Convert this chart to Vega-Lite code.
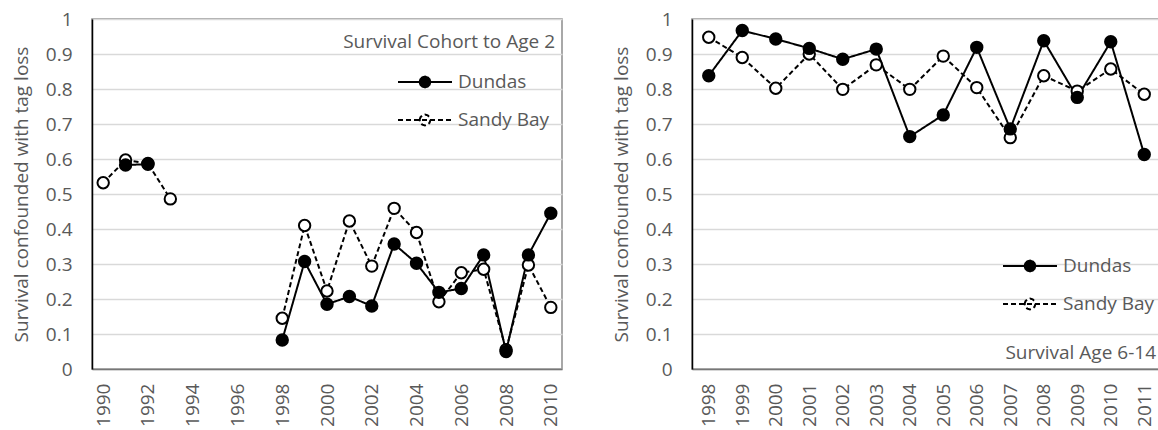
{
  "$schema": "https://vega.github.io/schema/vega-lite/v6.json",
  "background": "white",
  "padding": {"left": 11, "top": 9, "right": 0, "bottom": 0},
  "spacing": 48,
  "datasets": {
    "age2": [
      {"year": 1990, "site": "Sandy Bay", "value": 0.532, "period": "early"},
      {"year": 1991, "site": "Sandy Bay", "value": 0.597, "period": "early"},
      {"year": 1992, "site": "Sandy Bay", "value": 0.587, "period": "early"},
      {"year": 1993, "site": "Sandy Bay", "value": 0.486, "period": "early"},
      {"year": 1998, "site": "Sandy Bay", "value": 0.145, "period": "late"},
      {"year": 1999, "site": "Sandy Bay", "value": 0.41, "period": "late"},
      {"year": 2000, "site": "Sandy Bay", "value": 0.223, "period": "late"},
      {"year": 2001, "site": "Sandy Bay", "value": 0.423, "period": "late"},
      {"year": 2002, "site": "Sandy Bay", "value": 0.294, "period": "late"},
      {"year": 2003, "site": "Sandy Bay", "value": 0.459, "period": "late"},
      {"year": 2004, "site": "Sandy Bay", "value": 0.39, "period": "late"},
      {"year": 2005, "site": "Sandy Bay", "value": 0.192, "period": "late"},
      {"year": 2006, "site": "Sandy Bay", "value": 0.275, "period": "late"},
      {"year": 2007, "site": "Sandy Bay", "value": 0.285, "period": "late"},
      {"year": 2008, "site": "Sandy Bay", "value": 0.055, "period": "late"},
      {"year": 2009, "site": "Sandy Bay", "value": 0.297, "period": "late"},
      {"year": 2010, "site": "Sandy Bay", "value": 0.176, "period": "late"},
      {"year": 1991, "site": "Dundas", "value": 0.583, "period": "early"},
      {"year": 1992, "site": "Dundas", "value": 0.585, "period": "early"},
      {"year": 1998, "site": "Dundas", "value": 0.083, "period": "late"},
      {"year": 1999, "site": "Dundas", "value": 0.307, "period": "late"},
      {"year": 2000, "site": "Dundas", "value": 0.185, "period": "late"},
      {"year": 2001, "site": "Dundas", "value": 0.207, "period": "late"},
      {"year": 2002, "site": "Dundas", "value": 0.18, "period": "late"},
      {"year": 2003, "site": "Dundas", "value": 0.357, "period": "late"},
      {"year": 2004, "site": "Dundas", "value": 0.302, "period": "late"},
      {"year": 2005, "site": "Dundas", "value": 0.219, "period": "late"},
      {"year": 2006, "site": "Dundas", "value": 0.23, "period": "late"},
      {"year": 2007, "site": "Dundas", "value": 0.326, "period": "late"},
      {"year": 2008, "site": "Dundas", "value": 0.05, "period": "late"},
      {"year": 2009, "site": "Dundas", "value": 0.326, "period": "late"},
      {"year": 2010, "site": "Dundas", "value": 0.445, "period": "late"}
    ],
    "adult": [
      {"year": 1998, "site": "Sandy Bay", "value": 0.948},
      {"year": 1999, "site": "Sandy Bay", "value": 0.89},
      {"year": 2000, "site": "Sandy Bay", "value": 0.802},
      {"year": 2001, "site": "Sandy Bay", "value": 0.9},
      {"year": 2002, "site": "Sandy Bay", "value": 0.799},
      {"year": 2003, "site": "Sandy Bay", "value": 0.869},
      {"year": 2004, "site": "Sandy Bay", "value": 0.799},
      {"year": 2005, "site": "Sandy Bay", "value": 0.894},
      {"year": 2006, "site": "Sandy Bay", "value": 0.804},
      {"year": 2007, "site": "Sandy Bay", "value": 0.661},
      {"year": 2008, "site": "Sandy Bay", "value": 0.838},
      {"year": 2009, "site": "Sandy Bay", "value": 0.794},
      {"year": 2010, "site": "Sandy Bay", "value": 0.857},
      {"year": 2011, "site": "Sandy Bay", "value": 0.785},
      {"year": 1998, "site": "Dundas", "value": 0.838},
      {"year": 1999, "site": "Dundas", "value": 0.967},
      {"year": 2000, "site": "Dundas", "value": 0.943},
      {"year": 2001, "site": "Dundas", "value": 0.916},
      {"year": 2002, "site": "Dundas", "value": 0.885},
      {"year": 2003, "site": "Dundas", "value": 0.914},
      {"year": 2004, "site": "Dundas", "value": 0.664},
      {"year": 2005, "site": "Dundas", "value": 0.726},
      {"year": 2006, "site": "Dundas", "value": 0.919},
      {"year": 2007, "site": "Dundas", "value": 0.686},
      {"year": 2008, "site": "Dundas", "value": 0.938},
      {"year": 2009, "site": "Dundas", "value": 0.776},
      {"year": 2010, "site": "Dundas", "value": 0.935},
      {"year": 2011, "site": "Dundas", "value": 0.613}
    ]
  },
  "resolve": {"scale": {"x": "independent", "y": "independent", "fill": "independent", "strokeDash": "independent"}, "legend": {"fill": "independent", "strokeDash": "independent"}},
  "hconcat": [
    {
      "width": 470,
      "height": 350,
      "title": {"text": "Survival Cohort to Age 2", "orient": "top", "anchor": "end", "frame": "group", "baseline": "middle", "offset": -51, "dx": -7, "fontSize": 19, "fontWeight": "normal", "color": "#595959", "font": "Open Sans"},
      "data": {"name": "age2"},
      "encoding": {
        "x": {"field": "year", "type": "quantitative", "scale": {"domain": [1989.5, 2010.5], "nice": false, "zero": false},
              "axis": {"title": null, "values": [1990, 1992, 1994, 1996, 1998, 2000, 2002, 2004, 2006, 2008, 2010], "format": "d", "labelAngle": -90, "grid": false, "ticks": false, "labelPadding": 14, "labelOverlap": false, "domainColor": "#777777", "domainWidth": 1.5}},
        "y": {"field": "value", "type": "quantitative", "scale": {"domain": [0, 1], "nice": false},
              "axis": {"title": "Survival confounded with tag loss", "values": [0, 0.1, 0.2, 0.3, 0.4, 0.5, 0.6, 0.7, 0.8, 0.9, 1], "format": ".1~f", "ticks": false, "labelPadding": 20, "titlePadding": 14, "labelOverlap": false, "domainColor": "#000000", "domainWidth": 1.5}}
      },
      "layer": [
        {
          "mark": {"type": "line", "stroke": "black", "strokeWidth": 2},
          "encoding": {
            "strokeDash": {"field": "site", "type": "nominal", "scale": {"domain": ["Dundas", "Sandy Bay"], "range": [[1, 0], [5, 3]]},
                           "legend": {"title": null, "orient": "none", "legendX": 305, "legendY": 35, "symbolType": "M-1,0H1M-0.2,0L-0.17,-0.1L-0.1,-0.17L0,-0.2L0.1,-0.17L0.17,-0.1L0.2,0L0.17,0.1L0.1,0.17L0,0.2L-0.1,0.17L-0.17,0.1Z", "symbolSize": 2916, "symbolStrokeColor": "black", "symbolStrokeWidth": 2, "labelOffset": 5, "rowPadding": -2, "padding": 0}},
            "detail": {"field": "period"}
          }
        },
        {
          "mark": {"type": "point", "shape": "circle", "filled": true, "stroke": "black", "strokeWidth": 2, "size": 130, "opacity": 1},
          "encoding": {
            "fill": {"field": "site", "type": "nominal", "scale": {"domain": ["Dundas", "Sandy Bay"], "range": ["black", "white"]},
                     "legend": {"title": null, "orient": "none", "legendX": 305, "legendY": 35, "symbolType": "M-1,0H1M-0.2,0L-0.17,-0.1L-0.1,-0.17L0,-0.2L0.1,-0.17L0.17,-0.1L0.2,0L0.17,0.1L0.1,0.17L0,0.2L-0.1,0.17L-0.17,0.1Z", "symbolSize": 2916, "symbolStrokeColor": "black", "symbolStrokeWidth": 2, "labelOffset": 5, "rowPadding": -2, "padding": 0}}
          }
        }
      ]
    },
    {
      "width": 469,
      "height": 350,
      "title": {"text": "Survival Age 6-14", "orient": "bottom", "anchor": "end", "frame": "group", "baseline": "middle", "offset": -73, "dx": -5, "fontSize": 19, "fontWeight": "normal", "color": "#595959", "font": "Open Sans"},
      "data": {"name": "adult"},
      "encoding": {
        "x": {"field": "year", "type": "quantitative", "scale": {"domain": [1997.5, 2011.5], "nice": false, "zero": false},
              "axis": {"title": null, "values": [1998, 1999, 2000, 2001, 2002, 2003, 2004, 2005, 2006, 2007, 2008, 2009, 2010, 2011], "format": "d", "labelAngle": -90, "grid": false, "ticks": false, "labelPadding": 14, "labelOverlap": false, "domainColor": "#777777", "domainWidth": 1.5}},
        "y": {"field": "value", "type": "quantitative", "scale": {"domain": [0, 1], "nice": false},
              "axis": {"title": "Survival confounded with tag loss", "values": [0, 0.1, 0.2, 0.3, 0.4, 0.5, 0.6, 0.7, 0.8, 0.9, 1], "format": ".1~f", "ticks": false, "labelPadding": 20, "titlePadding": 14, "labelOverlap": false, "domainColor": "#000000", "domainWidth": 1.5}}
      },
      "layer": [
        {
          "mark": {"type": "line", "stroke": "black", "strokeWidth": 2},
          "encoding": {
            "strokeDash": {"field": "site", "type": "nominal", "scale": {"domain": ["Dundas", "Sandy Bay"], "range": [[1, 0], [5, 3]]},
                           "legend": {"title": null, "orient": "none", "legendX": 310, "legendY": 219, "symbolType": "M-1,0H1M-0.2,0L-0.17,-0.1L-0.1,-0.17L0,-0.2L0.1,-0.17L0.17,-0.1L0.2,0L0.17,0.1L0.1,0.17L0,0.2L-0.1,0.17L-0.17,0.1Z", "symbolSize": 2916, "symbolStrokeColor": "black", "symbolStrokeWidth": 2, "labelOffset": 5, "rowPadding": 0, "padding": 0}}
          }
        },
        {
          "mark": {"type": "point", "shape": "circle", "filled": true, "stroke": "black", "strokeWidth": 2, "size": 130, "opacity": 1},
          "encoding": {
            "fill": {"field": "site", "type": "nominal", "scale": {"domain": ["Dundas", "Sandy Bay"], "range": ["black", "white"]},
                     "legend": {"title": null, "orient": "none", "legendX": 310, "legendY": 219, "symbolType": "M-1,0H1M-0.2,0L-0.17,-0.1L-0.1,-0.17L0,-0.2L0.1,-0.17L0.17,-0.1L0.2,0L0.17,0.1L0.1,0.17L0,0.2L-0.1,0.17L-0.17,0.1Z", "symbolSize": 2916, "symbolStrokeColor": "black", "symbolStrokeWidth": 2, "labelOffset": 5, "rowPadding": 0, "padding": 0}}
          }
        }
      ]
    }
  ],
  "config": {
    "font": "Open Sans",
    "view": {"stroke": "#8c8c8c", "strokeWidth": 1.5},
    "axis": {"labelFont": "Open Sans", "labelFontSize": 19, "labelColor": "#595959", "titleFont": "Open Sans", "titleFontSize": 19, "titleFontWeight": "normal", "titleColor": "#595959", "gridColor": "#d9d9d9", "gridWidth": 1.5},
    "legend": {"labelFont": "Open Sans", "labelFontSize": 19, "labelColor": "#595959"}
  }
}
